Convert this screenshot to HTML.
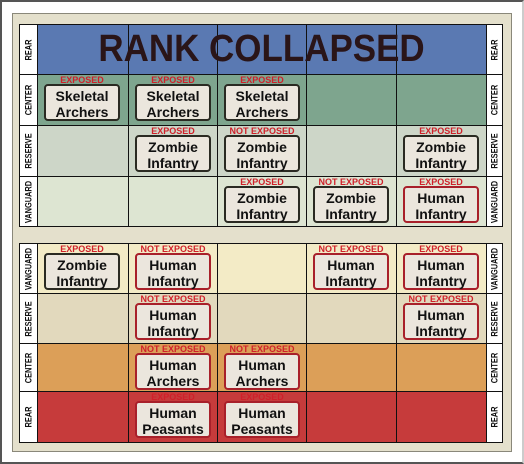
<!DOCTYPE html>
<html><head><meta charset="utf-8"><style>
body{margin:0;width:524px;height:464px;overflow:hidden;background:#fff;font-family:"Liberation Sans",sans-serif;}
#frame{position:absolute;left:0;top:0;width:520px;height:460px;border:2px solid #555;border-right-color:#ccc;background:#fff;}
#panel{position:absolute;left:12px;top:13px;width:500px;height:439px;background:#e4e0cc;border:1px solid #8a887a;box-sizing:border-box;}
.cell{position:absolute;box-sizing:border-box;border:1px solid #111;}
.lab{position:absolute;background:#fff;border:1px solid #111;box-sizing:border-box;}
.lab span{position:absolute;left:50%;top:50%;transform:translate(-50%,-50%) rotate(-90deg) scaleX(0.78);font-size:9.5px;font-weight:bold;white-space:nowrap;color:#111;}
.ex{position:absolute;width:90px;text-align:center;font-size:9px;font-weight:bold;color:#d0202a;line-height:9px;}
.box{position:absolute;width:76px;height:37px;box-sizing:border-box;border:2px solid #2a2a22;border-radius:4px;background:#ebe6dd;text-align:center;font-size:14px;font-weight:bold;line-height:16px;padding-top:2px;color:#111;}
.box.h{border-color:#a8202a;}
#title{position:absolute;left:37px;top:24px;width:449px;height:50px;text-align:center;font-size:38px;font-weight:bold;line-height:50px;color:#2a1518;transform:scaleX(0.92);}
</style></head><body>
<div id="frame"></div>
<div id="panel"></div>
<div id="board"></div>
<script>
var colX=[37,128,217,306,396,486];
var topRows=[24,74,125,176,226];
var botRows=[243,293,343,391,442];
var topNames=["REAR","CENTER","RESERVE","VANGUARD"];
var botNames=["VANGUARD","RESERVE","CENTER","REAR"];
var topColors=["#5a79b2","#7ea58e","#cdd6c8","#dde5d2"];
var botColors=["#f3ebc6","#e2d9bd","#dc9f58","#c63b3b"];
var units=[
 ["t",1,0,"Skeletal","Archers","EXPOSED",0],["t",1,1,"Skeletal","Archers","EXPOSED",0],["t",1,2,"Skeletal","Archers","EXPOSED",0],
 ["t",2,1,"Zombie","Infantry","EXPOSED",0],["t",2,2,"Zombie","Infantry","NOT EXPOSED",0],["t",2,4,"Zombie","Infantry","EXPOSED",0],
 ["t",3,2,"Zombie","Infantry","EXPOSED",0],["t",3,3,"Zombie","Infantry","NOT EXPOSED",0],["t",3,4,"Human","Infantry","EXPOSED",1],
 ["b",0,0,"Zombie","Infantry","EXPOSED",0],["b",0,1,"Human","Infantry","NOT EXPOSED",1],["b",0,3,"Human","Infantry","NOT EXPOSED",1],["b",0,4,"Human","Infantry","EXPOSED",1],
 ["b",1,1,"Human","Infantry","NOT EXPOSED",1],["b",1,4,"Human","Infantry","NOT EXPOSED",1],
 ["b",2,1,"Human","Archers","NOT EXPOSED",1],["b",2,2,"Human","Archers","NOT EXPOSED",1],
 ["b",3,1,"Human","Peasants","EXPOSED",1],["b",3,2,"Human","Peasants","EXPOSED",1]
];
var B=document.getElementById('board');
function mk(cls,l,t,w,h){var d=document.createElement('div');d.className=cls;d.style.left=l+'px';d.style.top=t+'px';if(w!=null){d.style.width=w+'px';d.style.height=h+'px';}B.appendChild(d);return d;}
function grid(rows,names,colors){
 for(var r=0;r<4;r++){
  var y=rows[r],h=rows[r+1]-rows[r]+1;
  for(var c=0;c<5;c++){
   var d=mk('cell',colX[c],y,colX[c+1]-colX[c]+1,h);d.style.background=colors[r];
   
   
  }
  var L=mk('lab',19,y,19,h);L.innerHTML='<span>'+names[r]+'</span>';
  
  
  var R=mk('lab',486,y,17,h);R.innerHTML='<span>'+names[r]+'</span>';
  
  
 }
}
grid(topRows,topNames,topColors);
grid(botRows,botNames,botColors);
var t=document.createElement('div');t.id='title';t.textContent='RANK COLLAPSED';B.appendChild(t);


units.forEach(function(u){
 var rows=u[0]==='t'?topRows:botRows;
 var x=colX[u[2]],y=rows[u[1]];
 var e=mk('ex',x,y+2);e.textContent=u[5];
 
 
 var b=mk('box'+(u[6]?' h':''),x+7,y+10);b.innerHTML=u[3]+'<br>'+u[4];
 
 
});
</script>
</body></html>
